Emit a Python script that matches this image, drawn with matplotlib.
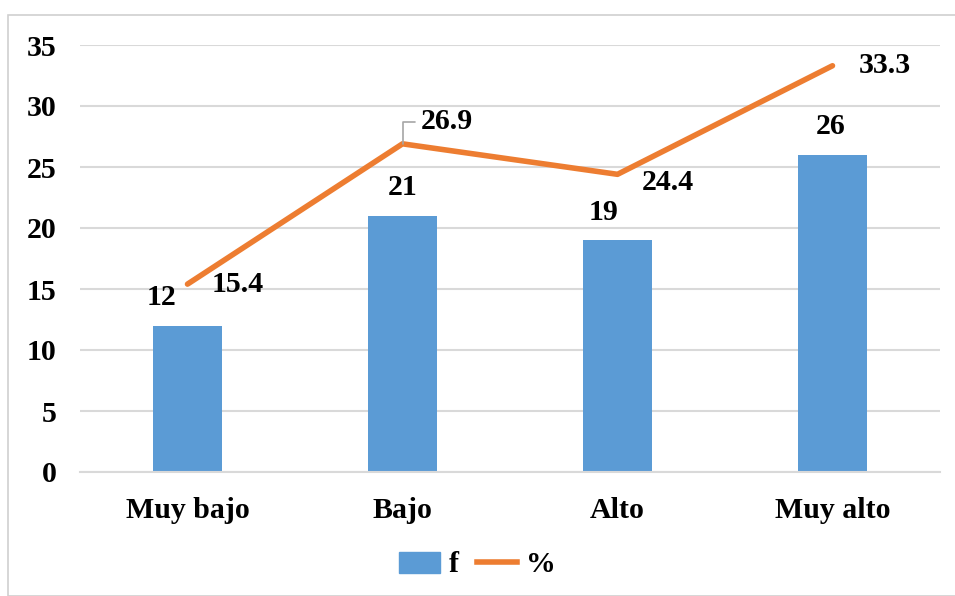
import matplotlib.pyplot as plt
import matplotlib.patches as mpatches
from matplotlib.lines import Line2D
import numpy as np

# data
categorias = ['Muy bajo', 'Bajo', 'Alto', 'Muy alto']
f_vals = [12, 21, 19, 26]
pct_vals = [15.4, 26.9, 24.4, 33.3]
pct_labels = ['15.4', '26.9', '24.4', '33.3']

azul = '#5B9BD5'
naranja = '#ED7D31'
fs = 21.5

plt.rcParams['font.family'] = ['Liberation Serif', 'DejaVu Serif']
plt.rcParams['font.weight'] = 'bold'

fig = plt.figure(figsize=(9.55, 5.96), dpi=100)
ax = fig.add_axes([80 / 955, 124 / 596, 860 / 955, 427 / 596])

# chart frame
fig.patches.append(mpatches.Rectangle((8 / 955, 0.0), 1.0, 581 / 596, transform=fig.transFigure,
                                      fill=False, edgecolor='#d0d0d0', linewidth=1.2))

x = np.arange(len(categorias))
ax.bar(x, f_vals, width=0.32, color=azul, zorder=2)
ax.plot(x, pct_vals, color=naranja, linewidth=4, solid_capstyle='round', zorder=3)

ax.set_xlim(-0.5, 3.5)
ax.set_ylim(0, 35)
ax.set_yticks(range(0, 36, 5))
ax.yaxis.grid(True, color='#d9d9d9', linewidth=1.5, zorder=0)
ax.set_axisbelow(True)
for s in ['top', 'right', 'left']:
    ax.spines[s].set_visible(False)
ax.spines['bottom'].set_color('#d9d9d9')
ax.spines['bottom'].set_linewidth(1.5)
ax.tick_params(length=0, labelsize=fs)
ax.tick_params(axis='y', pad=17)
ax.set_xticks(x)
ax.set_xticklabels(categorias, fontweight='bold')
ax.tick_params(axis='x', pad=18)
for lab in ax.get_yticklabels():
    lab.set_fontweight('bold')

# bar labels
bar_dx = [-26, 0, -14, -2]
for i, v in enumerate(f_vals):
    ax.annotate(str(v), (x[i], v), xytext=(bar_dx[i], 28), textcoords='offset pixels',
                ha='center', va='center', fontsize=fs, fontweight='bold')

# line labels
offs = [(24, 0), (18, 22), (24, -8), (26, 0)]
for i, v in enumerate(pct_vals):
    if i == 1:
        ax.annotate(pct_labels[i], (x[i], v), xytext=offs[i], textcoords='offset pixels',
                    ha='left', va='center', fontsize=fs, fontweight='bold',
                    arrowprops=dict(arrowstyle='-', color='#a6a6a6', lw=1.2,
                                    connectionstyle='angle,angleA=0,angleB=90,rad=0',
                                    shrinkA=2, shrinkB=0))
    else:
        ax.annotate(pct_labels[i], (x[i], v), xytext=offs[i], textcoords='offset pixels',
                    ha='left', va='center', fontsize=fs, fontweight='bold')

handles = [mpatches.Patch(color=azul, label='f'),
           Line2D([0], [0], color=naranja, linewidth=4, label='%')]
fig.legend(handles=handles, loc='center', bbox_to_anchor=(0.5, 31 / 596), ncol=2,
           frameon=False, prop={'size': fs, 'weight': 'bold'}, handlelength=1.35,
           handletextpad=0.3, columnspacing=0.6)

fig.savefig('out.png', dpi=100)
